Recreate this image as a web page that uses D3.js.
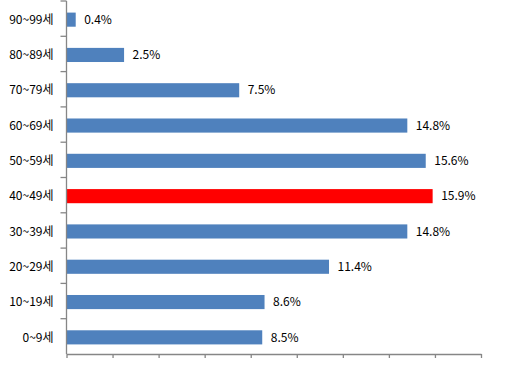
<!DOCTYPE html>
<html>
<head>
<meta charset="utf-8">
<script src="https://cdn.jsdelivr.net/npm/d3@7"></script>
<style>
  body { margin: 0; background: #fff; }
  text { font-family: "Noto Sans CJK KR", "Noto Sans", sans-serif; font-size: 12px; fill: #000; }
</style>
</head>
<body>
<div id="chart"></div>
<script>
// Chart data
var categories = ["90~99세", "80~89세", "70~79세", "60~69세", "50~59세", "40~49세", "30~39세", "20~29세", "10~19세", "0~9세"];
var values = [0.4, 2.5, 7.5, 14.8, 15.6, 15.9, 14.8, 11.4, 8.6, 8.5];
var highlight = "40~49세";
var xTicks = [0, 2, 4, 6, 8, 10, 12, 14, 16, 18];

var svgWidth = 505;
var svgHeight = 370;

var margin = { top: 1, right: 24, bottom: 16, left: 66.5 };
var width = svgWidth - margin.left - margin.right;
var height = svgHeight - margin.top - margin.bottom;

var svg = d3.select("#chart")
    .append("svg")
    .attr("width", svgWidth)
    .attr("height", svgHeight);

var chartGroup = svg.append("g")
    .attr("transform", `translate(${margin.left}, ${margin.top})`);

var data = categories.map(function(c, i) {
  return { cat: c, value: values[i] };
});

// Scales
var xScale = d3.scaleLinear()
  .domain([0, 18])
  .range([0, width]);

var yScale = d3.scaleBand()
  .domain(categories)
  .range([0, height])
  .paddingInner(0.6)
  .paddingOuter(0.3);

// Category band edges for the y-axis tick marks
var bandStep = height / categories.length;

// Bars
chartGroup.selectAll("rect.bar")
  .data(data)
  .enter()
  .append("rect")
  .attr("class", "bar")
  .attr("x", 0)
  .attr("y", d => yScale(d.cat) + 1)
  .attr("width", d => xScale(d.value))
  .attr("height", yScale.bandwidth())
  .attr("fill", d => d.cat === highlight ? "#FF0000" : "#4F81BD");

// Value labels
chartGroup.selectAll("text.val")
  .data(data)
  .enter()
  .append("text")
  .attr("class", "val")
  .attr("x", d => xScale(d.value) + 8.5)
  .attr("y", d => yScale(d.cat) + 1 + yScale.bandwidth() / 2)
  .attr("dy", "0.35em")
  .text(d => d.value.toFixed(1) + "%");

// Bottom axis (ticks only)
var bottomAxis = d3.axisBottom(xScale)
  .tickValues(xTicks)
  .tickSizeInner(4)
  .tickSizeOuter(0)
  .tickFormat("");

var xAxisG = chartGroup.append("g")
  .attr("transform", `translate(0, ${height})`)
  .call(bottomAxis);

// Left axis line and ticks between categories
var yAxisG = chartGroup.append("g");
yAxisG.append("line")
  .attr("x1", 0).attr("x2", 0)
  .attr("y1", 0).attr("y2", height);
yAxisG.selectAll("line.tick")
  .data(d3.range(categories.length))
  .enter()
  .append("line")
  .attr("class", "tick")
  .attr("x1", -6).attr("x2", 0)
  .attr("y1", i => i * bandStep)
  .attr("y2", i => i * bandStep);

// Category labels
chartGroup.selectAll("text.cat")
  .data(categories)
  .enter()
  .append("text")
  .attr("class", "cat")
  .attr("x", -13)
  .attr("y", d => yScale(d) + 1 + yScale.bandwidth() / 2)
  .attr("dy", "0.35em")
  .attr("text-anchor", "end")
  .text(d => d);

// Axis styling
svg.selectAll(".domain, .tick line, line")
  .attr("stroke", "#868686")
  .attr("stroke-width", 1.3);
</script>
</body>
</html>
